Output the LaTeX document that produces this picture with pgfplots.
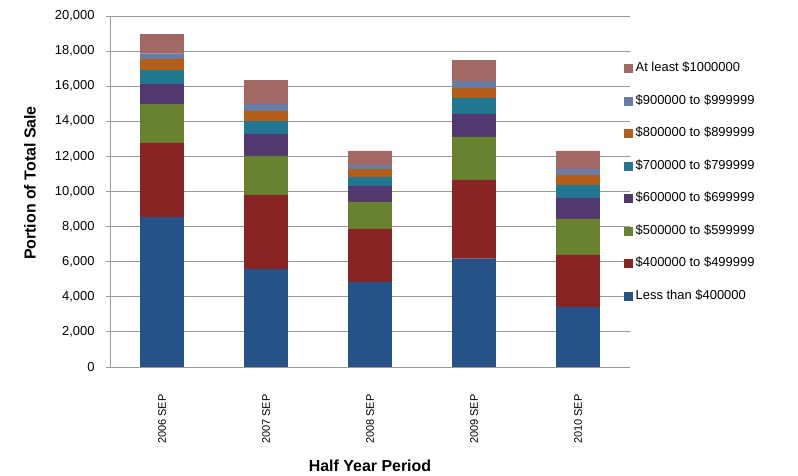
\documentclass[border=0pt]{standalone}
\usepackage{pgfplots}
\usepackage{pgfplotstable}
\usepackage{fontspec}
\setmainfont{Liberation Sans}
\pgfplotsset{compat=1.18}

\definecolor{cLess}{RGB}{38,82,135}
\definecolor{cFour}{RGB}{137,36,36}
\definecolor{cFive}{RGB}{104,130,48}
\definecolor{cSix}{RGB}{81,56,110}
\definecolor{cSeven}{RGB}{33,119,143}
\definecolor{cEight}{RGB}{181,94,26}
\definecolor{cNine}{RGB}{104,125,165}
\definecolor{cMil}{RGB}{161,104,100}
\definecolor{gridgray}{RGB}{155,155,155}

% sales count per price band, one row per half-year period
\pgfplotstableread{
x less four five six seven eight nine mil
0 8510 4260 2210 1140 800 610 320 1120
1 5590 4220 2220 1250 720 590 390 1370
2 4850 3020 1540 910 510 420 230 830
3 6170 4490 2450 1310 910 570 380 1210
4 3390 3000 2050 1200 740 530 340 1060
}\sales

\begin{document}
\begin{tikzpicture}
\useasboundingbox (0,0) rectangle (798bp,476bp);
\begin{axis}[
  at={(110bp,109bp)}, anchor=south west,
  scale only axis, width=520bp, height=351bp,
  ybar stacked, bar width=43bp,
  xmin=-0.5, xmax=4.5, ymin=0, ymax=20000,
  axis x line*=bottom, axis y line*=left,
  axis line style={draw=gridgray, line width=0.8bp},
  xtick={0,1,2,3,4},
  xticklabels={2006 SEP,2007 SEP,2008 SEP,2009 SEP,2010 SEP},
  x tick style={draw=none},
  extra x ticks={-0.5,0.5,1.5,2.5,3.5,4.5},
  extra x tick labels={},
  extra x tick style={major tick length=4bp, tick align=outside,
    tick style={draw=gridgray, line width=0.8bp}, grid=none},
  xticklabel style={rotate=90, anchor=east, font=\fontsize{11}{13}\selectfont},
  xticklabel shift=20bp,
  ytick={0,2000,...,20000},
  scaled y ticks=false,
  y tick style={draw=gridgray, line width=0.8bp},
  major tick length=4bp, tick align=outside,
  yticklabel style={font=\fontsize{13}{15}\selectfont},
  yticklabel shift=8bp,
  /pgf/number format/.cd, 1000 sep={,}, assume math mode=true,
  /pgfplots/.cd,
  ymajorgrids,
  grid style={draw=gridgray, line width=0.8bp},
  xlabel={Half Year Period},
  ylabel={Portion of Total Sale},
  xlabel style={font=\bfseries\fontsize{16}{18}\selectfont,
    at={(axis description cs:0.5,-0.299)}, anchor=base},
  ylabel style={font=\bfseries\fontsize{16}{18}\selectfont,
    at={(axis description cs:-0.1538,0.524)}, anchor=center},
  reverse legend,
  legend cell align=left,
  legend image code/.code={\fill[#1] (0bp,-4bp) rectangle (8bp,4bp);},
  legend style={at={(axis description cs:0.983,0.875)}, anchor=north west,
    draw=none, fill=none, font=\fontsize{13}{15}\selectfont,
    nodes={inner sep=0pt, text height=9.5bp, text depth=3bp},
    row sep=20bp, column sep=3bp},
]
\addplot[fill=cLess, draw=cLess, line width=0.3bp] table[x=x, y=less] {\sales};
\addlegendentry{Less than \$400000}
\addplot[fill=cFour, draw=cFour, line width=0.3bp] table[x=x, y=four] {\sales};
\addlegendentry{\$400000 to \$499999}
\addplot[fill=cFive, draw=cFive, line width=0.3bp] table[x=x, y=five] {\sales};
\addlegendentry{\$500000 to \$599999}
\addplot[fill=cSix, draw=cSix, line width=0.3bp] table[x=x, y=six] {\sales};
\addlegendentry{\$600000 to \$699999}
\addplot[fill=cSeven, draw=cSeven, line width=0.3bp] table[x=x, y=seven] {\sales};
\addlegendentry{\$700000 to \$799999}
\addplot[fill=cEight, draw=cEight, line width=0.3bp] table[x=x, y=eight] {\sales};
\addlegendentry{\$800000 to \$899999}
\addplot[fill=cNine, draw=cNine, line width=0.3bp] table[x=x, y=nine] {\sales};
\addlegendentry{\$900000 to \$999999}
\addplot[fill=cMil, draw=cMil, line width=0.3bp] table[x=x, y=mil] {\sales};
\addlegendentry{At least \$1000000}
\end{axis}
\end{tikzpicture}
\end{document}
